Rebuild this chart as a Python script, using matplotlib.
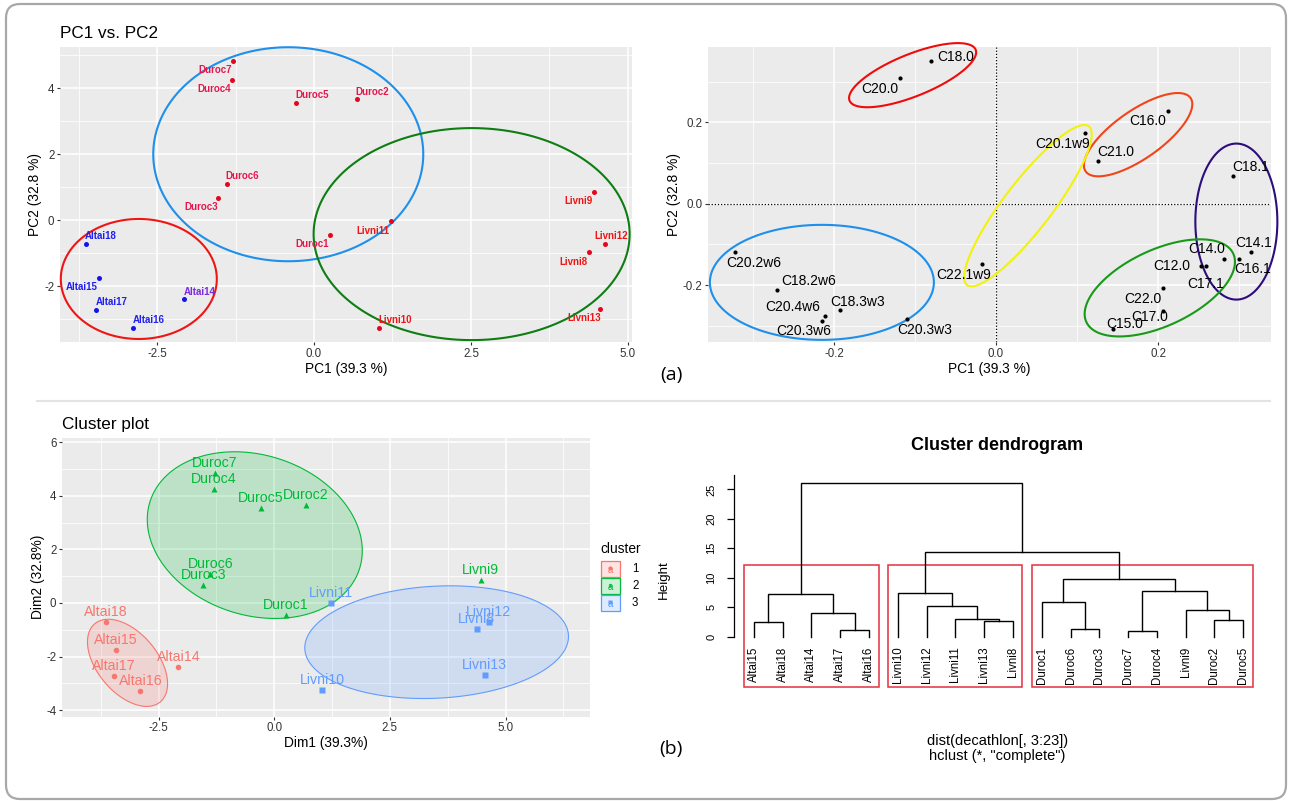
import numpy as np
import matplotlib
matplotlib.use('Agg')
import matplotlib.pyplot as plt
from matplotlib.patches import FancyBboxPatch, Rectangle, Polygon
from matplotlib.lines import Line2D
from matplotlib.colors import to_rgba
from matplotlib.transforms import IdentityTransform

plt.rcParams['font.family'] = ['Liberation Sans', 'DejaVu Sans']
plt.rcParams['axes.unicode_minus'] = False

W, H = 1289, 801

# ---------------- data ----------------
samples = ['Duroc1', 'Duroc2', 'Duroc3', 'Duroc4', 'Duroc5', 'Duroc6', 'Duroc7',
           'Livni8', 'Livni9', 'Livni10', 'Livni11', 'Livni12', 'Livni13',
           'Altai14', 'Altai15', 'Altai16', 'Altai17', 'Altai18']
pc1 = [0.25, 0.68, -1.53, -1.30, -0.29, -1.38, -1.29,
       4.38, 4.46, 1.04, 1.22, 4.64, 4.55,
       -2.07, -3.42, -2.89, -3.47, -3.63]
pc2 = [-0.46, 3.67, 0.67, 4.25, 3.54, 1.09, 4.84,
       -0.97, 0.86, -3.26, -0.01, -0.71, -2.70,
       -2.39, -1.74, -3.28, -2.72, -0.71]
breed = ['Duroc'] * 7 + ['Livni'] * 6 + ['Altai'] * 5
cluster = [2, 2, 2, 2, 2, 2, 2, 3, 2, 3, 3, 3, 3, 1, 1, 1, 1, 1]

acids = ['C18.0', 'C20.0', 'C16.0', 'C20.1w9', 'C21.0', 'C18.1', 'C14.1', 'C16.1',
         'C14.0', 'C12.0', 'C17.1', 'C22.0', 'C17.0', 'C15.0', 'C22.1w9',
         'C20.2w6', 'C18.2w6', 'C18.3w3', 'C20.4w6', 'C20.3w6', 'C20.3w3']
acid_pc1 = [-0.080, -0.119, 0.2125, 0.110, 0.126, 0.292, 0.315, 0.300,
            0.282, 0.2525, 0.259, 0.2057, 0.2057, 0.145, -0.017,
            -0.322, -0.271, -0.193, -0.2116, -0.215, -0.110]
acid_pc2 = [0.352, 0.310, 0.229, 0.173, 0.105, 0.069, -0.118, -0.136,
            -0.136, -0.1525, -0.1525, -0.207, -0.264, -0.307, -0.1475,
            -0.120, -0.211, -0.261, -0.277, -0.288, -0.283]

# ellipses: centre (data), semi-axes (px), angle (deg)
ell1_cx = [-0.41, 2.51, -2.79]
ell1_cy = [2.0, -0.42, -1.78]
ell1_a = [135, 158, 78]
ell1_b = [107, 106, 60]
ell1_ang = [0, 0, 0]

ell2_cx = [-0.103, 0.1754, 0.0394, 0.2967, 0.2022, -0.215]
ell2_cy = [0.316, 0.1697, -0.0049, -0.044, -0.207, -0.1934]
ell2_a = [68, 64, 100, 41, 81, 112]
ell2_b = [21, 24, 24, 78, 38, 57.5]
ell2_ang = [22, 35, 52.5, 0, 25, 0]

ell3_cluster = [2, 3, 1]
ell3_cx = [-0.42, 3.51, -3.17]
ell3_cy = [2.53, -1.46, -2.23]
ell3_a = [110, 132, 51]
ell3_b = [80, 56, 30]
ell3_ang = [-18, 3, -50]

leaf_order = ['Altai15', 'Altai18', 'Altai14', 'Altai17', 'Altai16',
              'Livni10', 'Livni12', 'Livni11', 'Livni13', 'Livni8',
              'Duroc1', 'Duroc6', 'Duroc3', 'Duroc7', 'Duroc4', 'Livni9', 'Duroc2', 'Duroc5']
# (left, right, height); int = earlier merge
merges = [('Altai17', 'Altai16', 1.13),
          ('Duroc7', 'Duroc4', 1.02),
          ('Duroc6', 'Duroc3', 1.36),
          ('Altai15', 'Altai18', 2.49),
          ('Livni13', 'Livni8', 2.60),
          ('Duroc2', 'Duroc5', 2.88),
          ('Livni11', 4, 3.00),
          ('Altai14', 0, 4.02),
          ('Livni9', 5, 4.58),
          ('Livni12', 6, 5.20),
          ('Duroc1', 2, 5.94),
          (3, 7, 7.18),
          ('Livni10', 9, 7.47),
          (1, 8, 7.69),
          (10, 13, 9.84),
          (12, 14, 14.42),
          (11, 15, 26.13)]
k_groups = 3

# ---------------- layout helpers ----------------
def box(l, t, r, b):
    return [l / W, 1 - b / H, (r - l) / W, (b - t) / H]

def ellipse(ax, cx, cy, a, b, ang, color, lw, alpha=None):
    t = np.linspace(0, 2 * np.pi, 361)
    c, s = np.cos(np.radians(ang)), np.sin(np.radians(ang))
    u, v = a * np.cos(t), b * np.sin(t)
    pts = np.column_stack([u * c - v * s, u * s + v * c]) + ax.transData.transform((cx, cy))
    xy = ax.transData.inverted().transform(pts)
    fc = 'none' if alpha is None else to_rgba(color, alpha)
    ax.add_patch(Polygon(xy, closed=True, fc=fc, ec=color, lw=lw, zorder=2, clip_on=False))

def gg_axes(rect, xlim, ylim, xmaj, xlab, ymaj, ylab, xmin, ymin):
    ax = fig.add_axes(rect)
    ax.set_facecolor('#EBEBEB')
    for s in ax.spines.values():
        s.set_visible(False)
    ax.set_xlim(xlim)
    ax.set_ylim(ylim)
    ax.set_xticks(xmaj)
    ax.set_xticklabels(xlab)
    ax.set_yticks(ymaj)
    ax.set_yticklabels(ylab)
    ax.set_xticks(xmin, minor=True)
    ax.set_yticks(ymin, minor=True)
    ax.grid(which='major', color='white', lw=1.1)
    ax.grid(which='minor', color='white', lw=0.55)
    ax.set_axisbelow(True)
    ax.tick_params(which='minor', length=0)
    ax.tick_params(which='major', length=2.5, width=0.8, color='#333333',
                   labelsize=8.3, labelcolor='#333333', pad=1.5)
    return ax

fig = plt.figure(figsize=(W / 100, H / 100), dpi=100)

# ---------------- panel 1: PC1 vs PC2 ----------------
ax1 = gg_axes(box(60, 47, 632, 342), (-4.045, 5.064), (-3.69, 5.25),
              [-2.5, 0, 2.5, 5], ['-2.5', '0.0', '2.5', '5.0'],
              [-2, 0, 2, 4], ['-2', '0', '2', '4'],
              [-3.75, -1.25, 1.25, 3.75], [-3, -1, 1, 3, 5])
ax1.set_xlabel('PC1 (39.3 %)', fontsize=9.9, labelpad=1.5)
ax1.set_ylabel('PC2 (32.8 %)', fontsize=9.9, labelpad=1.5)
fig.text(60 / W, 1 - 33 / H, 'PC1 vs. PC2', fontsize=12.3, va='center', ha='left')

for i, col in enumerate(['#1E8FEA', '#0E7D12', '#F01515']):
    ellipse(ax1, ell1_cx[i], ell1_cy[i], ell1_a[i], ell1_b[i], ell1_ang[i], col, 1.5)

point_col = {'Duroc': '#E2071E', 'Livni': '#E2071E', 'Altai': '#1414E6'}
text_col = {'Duroc': '#E3174D', 'Livni': '#EE1515', 'Altai': '#2020F0'}
text_col_override = {'Altai14': '#7B2BE0'}
nudge1 = {'Duroc7': (-18, -9), 'Duroc4': (-18, -9), 'Duroc5': (16, 8), 'Duroc2': (15, 7),
          'Duroc6': (15, 8), 'Duroc3': (-17, -9), 'Duroc1': (-18, -9), 'Livni11': (-18, -10),
          'Livni9': (-16, -9), 'Livni12': (6, 8), 'Livni8': (-16, -10), 'Livni13': (-16, -9),
          'Livni10': (16, 8), 'Altai18': (15, 8), 'Altai15': (-18, -9), 'Altai17': (16, 8),
          'Altai16': (16, 8), 'Altai14': (16, 7)}
for n, x, y, g in zip(samples, pc1, pc2, breed):
    ax1.plot(x, y, 'o', ms=3.6, color=point_col[g], mec='none', zorder=3)
    ax1.annotate(n, (x, y), xytext=nudge1[n], textcoords='offset pixels', ha='center',
                 va='center', fontsize=7, fontweight='bold',
                 color=text_col_override.get(n, text_col[g]), zorder=4)

# ---------------- panel 2: variables ----------------
ax2 = gg_axes(box(708, 46.5, 1270.7, 342.3), (-0.3556, 0.3391), (-0.3408, 0.3865),
              [-0.2, 0, 0.2], ['-0.2', '0.0', '0.2'],
              [-0.2, 0, 0.2], ['-0.2', '0.0', '0.2'],
              [-0.3, -0.1, 0.1, 0.3], [-0.3, -0.1, 0.1, 0.3])
ax2.set_xlabel('PC1 (39.3 %)', fontsize=9.9, labelpad=1.5)
ax2.set_ylabel('PC2 (32.8 %)', fontsize=9.9, labelpad=1.5)
ax2.axhline(0, color='black', lw=0.9, ls=(0, (1, 1.5)), zorder=1.5)
ax2.axvline(0, color='black', lw=0.9, ls=(0, (1, 1.5)), zorder=1.5)
for i, col in enumerate(['#F00A0A', '#F2441A', '#F2F20A', '#2E0C7A', '#179A17', '#1E8FEA']):
    ellipse(ax2, ell2_cx[i], ell2_cy[i], ell2_a[i], ell2_b[i], ell2_ang[i], col, 1.5)

nudge2 = {'C20.0': (-20, -11), 'C18.0': (24, 4), 'C16.0': (-20, -10), 'C20.1w9': (-23, -11),
          'C21.0': (18, 9), 'C18.1': (18, 9), 'C14.1': (2, 9), 'C16.1': (14, -10),
          'C14.0': (-18, 10), 'C12.0': (-29, 0), 'C17.1': (0, -18), 'C22.0': (-20, -11),
          'C17.0': (-13, -6), 'C15.0': (11, 5), 'C22.1w9': (-19, -11), 'C20.2w6': (19, -11),
          'C18.2w6': (32, 9), 'C18.3w3': (18, 8), 'C20.4w6': (-32, 9), 'C20.3w6': (-18, -10),
          'C20.3w3': (18, -11)}
for n, x, y in zip(acids, acid_pc1, acid_pc2):
    ax2.plot(x, y, 'o', ms=3, color='black', mec='none', zorder=3)
    ax2.annotate(n, (x, y), xytext=nudge2[n], textcoords='offset pixels', ha='center',
                 va='center', fontsize=10, color='black', zorder=4)

# ---------------- panel 3: cluster plot ----------------
ax3 = gg_axes(box(62, 437.7, 590, 716.7), (-4.586, 6.824), (-4.238, 6.161),
              [-2.5, 0, 2.5, 5], ['-2.5', '0.0', '2.5', '5.0'],
              [-4, -2, 0, 2, 4, 6], ['-4', '-2', '0', '2', '4', '6'],
              [-3.75, -1.25, 1.25, 3.75, 6.25], [-3, -1, 1, 3, 5])
ax3.set_xlabel('Dim1 (39.3%)', fontsize=9.9, labelpad=1.5)
ax3.set_ylabel('Dim2 (32.8%)', fontsize=9.9, labelpad=1)
fig.text(62 / W, 1 - 425 / H, 'Cluster plot', fontsize=12.3, va='center', ha='left')

cl_col = {1: '#F8766D', 2: '#00BA38', 3: '#619CFF'}
cl_mark = {1: 'o', 2: '^', 3: 's'}
for i, c in enumerate(ell3_cluster):
    ellipse(ax3, ell3_cx[i], ell3_cy[i], ell3_a[i], ell3_b[i], ell3_ang[i], cl_col[c], 0.8, alpha=0.2)
for n, x, y, c in zip(samples, pc1, pc2, cluster):
    ax3.plot(x, y, cl_mark[c], ms=4, color=cl_col[c], mec='none', zorder=3)
    ax3.annotate(n, (x, y), xytext=(0, 10), textcoords='offset pixels', ha='center',
                 va='center', fontsize=10.2, color=cl_col[c], zorder=4)

# legend
axl = fig.add_axes(box(592, 538, 662, 616))
axl.set_xlim(592, 662)
axl.set_ylim(616, 538)
axl.axis('off')
axl.text(600, 549, 'cluster', fontsize=9.9, va='center', ha='left')
for j, c in enumerate([1, 2, 3]):
    yc = 569 + 17 * j
    axl.add_patch(Rectangle((601, yc - 8), 19, 16, fc=to_rgba(cl_col[c], 0.2),
                            ec=cl_col[c], lw=0.9))
    axl.text(610.5, yc + 1, 'a', fontsize=7, color=cl_col[c], ha='center', va='center')
    axl.plot(610.5, yc - 1.5, cl_mark[c], ms=3, color=cl_col[c], mec='none')
    axl.text(632, yc, str(c), fontsize=8.3, va='center', ha='left')

# ---------------- panel 4: dendrogram ----------------
n = len(leaf_order)
ax4 = fig.add_axes(box(734.3, 476, 1262.8, 686.7))
ax4.set_xlim(1 - 0.04 * (n - 1), n + 0.04 * (n - 1))
ax4.set_ylim(-8.48, 27.26)
for s in ['top', 'right', 'bottom']:
    ax4.spines[s].set_visible(False)
ax4.spines['left'].set_bounds(0, 27.4)
ax4.spines['left'].set_linewidth(0.9)
ax4.set_xticks([])
ax4.set_yticks([0, 5, 10, 15, 20, 25])
ax4.set_yticklabels(['0', '5', '10', '15', '20', '25'], rotation=90, va='center')
ax4.tick_params(axis='y', length=5, width=0.9, labelsize=8, pad=8)
ax4.set_ylabel('Height', fontsize=9.6)
ax4.yaxis.set_label_coords(-0.1217, 0.506)

leaf_x = {name: i + 1 for i, name in enumerate(leaf_order)}
node_x, node_h = [], []
def pos(node):
    if isinstance(node, str):
        return leaf_x[node], 0.0
    return node_x[node], node_h[node]
for a, b, h in merges:
    xa, ha = pos(a)
    xb, hb = pos(b)
    ax4.plot([xa, xa, xb, xb], [ha, h, h, hb], color='black', lw=1.0, solid_joinstyle='miter')
    node_x.append((xa + xb) / 2)
    node_h.append(h)
for name, x in leaf_x.items():
    ax4.annotate(name, (x, 0), xytext=(0, -10), textcoords='offset pixels', rotation=90,
                 ha='center', va='top', fontsize=8.3)

# rect.hclust for k groups
def leaves(node):
    if isinstance(node, str):
        return [node]
    a, b, _ = merges[node]
    return leaves(a) + leaves(b)
groups = [len(merges) - 1]
while len(groups) < k_groups:
    top = max([g for g in groups if not isinstance(g, str)], key=lambda g: merges[g][2])
    groups.remove(top)
    groups += [merges[top][0], merges[top][1]]
heights_sorted = sorted(node_h, reverse=True)
rect_top = np.mean(heights_sorted[k_groups - 2:k_groups])
y0 = ax4.get_ylim()[0]
for g in groups:
    idx = [leaf_x[l] for l in leaves(g)]
    left, right = min(idx) - 1 + 0.66, max(idx) + 0.33
    ax4.add_patch(Rectangle((left, y0), right - left, rect_top - y0, fc='none',
                            ec='#E2303F', lw=1.1, clip_on=False))

fig.text(997.5 / W, 1 - 445 / H, 'Cluster dendrogram', fontsize=13, fontweight='bold',
         ha='center', va='center')
fig.text(997.5 / W, 1 - 741 / H, 'dist(decathlon[, 3:23])', fontsize=10.5, ha='center', va='center')
fig.text(997.5 / W, 1 - 756 / H, 'hclust (*, "complete")', fontsize=10.5, ha='center', va='center')

# ---------------- frame and panel tags ----------------
fig.add_artist(FancyBboxPatch((6, 2), 1280, 795, boxstyle='round,pad=0,rounding_size=14',
                              transform=IdentityTransform(), fc='none', ec='#A8A8A8', lw=1.6))
fig.add_artist(Line2D([37 / W, 1270 / W], [1 - 401 / H, 1 - 401 / H], color='#E3E3E3', lw=1.5))
fig.text(671 / W, 1 - 375 / H, '(a)', fontsize=14, ha='center', va='center',
         family=['Open Sans', 'DejaVu Sans'])
fig.text(671 / W, 1 - 749 / H, '(b)', fontsize=14, ha='center', va='center',
         family=['Open Sans', 'DejaVu Sans'])

fig.savefig('out.png', dpi=100)
